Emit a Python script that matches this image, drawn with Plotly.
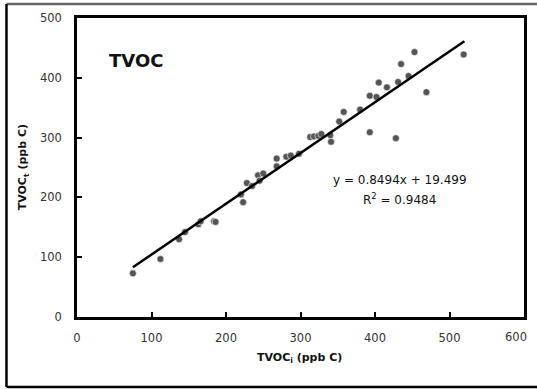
import plotly.graph_objects as go

# Data
tvoc_i = [75, 112, 137, 145, 163, 166, 184, 186, 220, 223, 228, 235, 243, 245, 250,
          268, 268, 281, 287, 298, 313, 318, 324, 328, 341, 340, 352, 358, 380, 393,
          402, 393, 405, 416, 431, 428, 435, 445, 453, 469, 519]
tvoc_t = [73, 97, 130, 142, 155, 160, 160, 159, 205, 192, 224, 219, 237, 228, 240,
          265, 252, 268, 270, 273, 301, 302, 303, 306, 293, 304, 327, 343, 347, 370,
          368, 309, 392, 384, 393, 299, 423, 403, 443, 376, 439]

slope = 0.8494
intercept = 19.499
fit_x = [75, 520]
fit_y = [slope * v + intercept for v in fit_x]

x_ticks = [0, 100, 200, 300, 400, 500, 600]
x_labels = ["0", "100", "200", "300", "400", "500", ""]
y_ticks = [0, 100, 200, 300, 400, 500]

W, H = 537, 389
L, R, T, B = 77, 10, 18, 72
pw, ph = W - L - R, H - T - B

def px(x):
    return (x - L) / pw

def py(y):
    return (H - B - y) / ph

FONT = "DejaVu Sans, sans-serif"

fig = go.Figure()
fig.add_trace(go.Scatter(
    x=tvoc_i, y=tvoc_t, mode="markers",
    marker=dict(color="#555555", size=7, line=dict(color="white", width=0.6)),
    showlegend=False, hoverinfo="x+y"))
fig.add_trace(go.Scatter(
    x=fit_x, y=fit_y, mode="lines",
    line=dict(color="black", width=2.5), showlegend=False))

axis_common = dict(
    showgrid=False, zeroline=False, showline=True, linecolor="black", linewidth=2.5,
    mirror=True, ticks="inside", ticklen=5, tickwidth=2, tickcolor="black",
    tickfont=dict(family=FONT, size=11.5, color="#333333"),
)
fig.update_xaxes(range=[0, 600], tickvals=x_ticks, ticktext=x_labels,
                 ticklabelstandoff=8, **axis_common)
fig.update_yaxes(range=[0, 500], tickvals=y_ticks, ticklabelstandoff=10, **axis_common)

annos = [
    dict(x=px(519), y=py(337), text="600", font=dict(size=11.5, color="#333333")),
    dict(x=px(301), y=py(358), text="<b>TVOC<sub>i</sub> (ppb C)</b>",
         font=dict(size=11, color="#111111")),
    dict(x=px(23), y=py(167), text="<b>TVOC<sub>t</sub> (ppb C)</b>",
         font=dict(size=11, color="#111111"), textangle=-90),
    dict(x=px(136), y=py(60), text="<b>TVOC</b>", font=dict(size=18, color="#111111")),
    dict(x=px(402), y=py(180), text="y = 0.8494x + 19.499", font=dict(size=12, color="#111111")),
    dict(x=px(402), y=py(199), text="R<sup>2</sup> = 0.9484", font=dict(size=12, color="#111111")),
]
for a in annos:
    a.update(xref="paper", yref="paper", showarrow=False, xanchor="center", yanchor="middle")
    a["font"].update(family=FONT)
fig.update_layout(annotations=annos)

# outer frame (right side lies outside the picture)
fig.add_shape(type="line", xref="paper", yref="paper",
              x0=px(6), x1=px(545), y0=py(4), y1=py(4),
              line=dict(color="#666666", width=2.5))
fig.add_shape(type="line", xref="paper", yref="paper",
              x0=px(6), x1=px(6), y0=py(4), y1=py(387),
              line=dict(color="black", width=2.5))
fig.add_shape(type="line", xref="paper", yref="paper",
              x0=px(6), x1=px(545), y0=py(387), y1=py(387),
              line=dict(color="black", width=2.5))

fig.update_layout(
    width=W, height=H, margin=dict(l=L, r=R, t=T, b=B),
    paper_bgcolor="white", plot_bgcolor="white",
)
fig.write_html("out.html")
